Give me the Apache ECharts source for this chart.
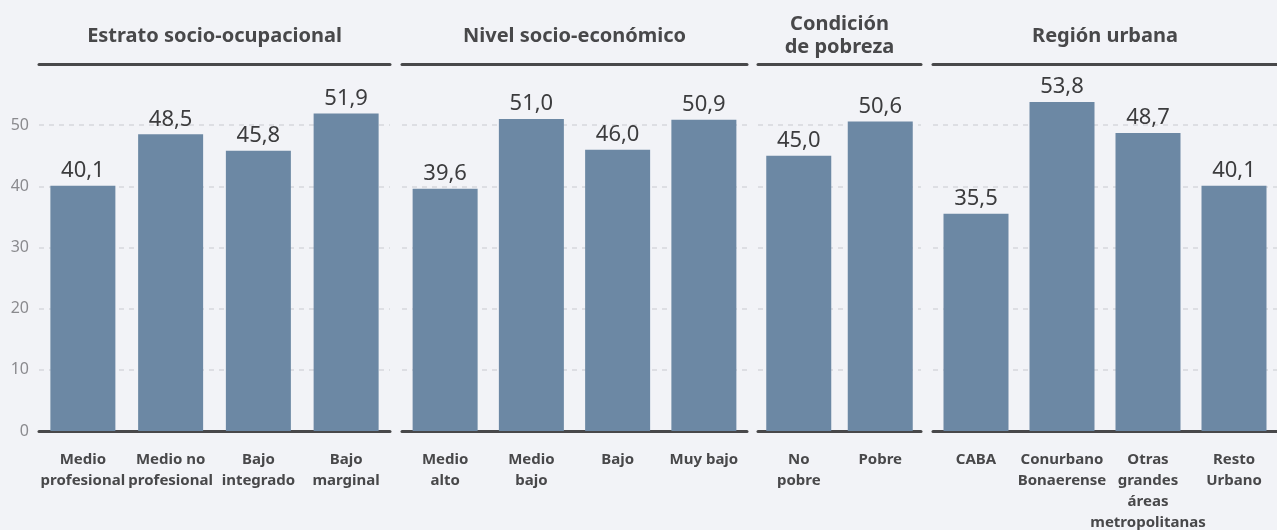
<!DOCTYPE html>
<html>
<head>
<meta charset="utf-8">
<script src="https://cdn.jsdelivr.net/npm/echarts@6/dist/echarts.min.js"></script>
<style>
  html, body { margin: 0; padding: 0; background: #f2f3f7; }
  #chart { width: 1277px; height: 530px; }
</style>
</head>
<body>
<div id="chart"></div>
<script>
const panelTitles = ['Estrato socio-ocupacional', 'Nivel socio-económico', 'Condición\nde pobreza', 'Región urbana']
const estratoCats = ['Medio\nprofesional', 'Medio no\nprofesional', 'Bajo\nintegrado', 'Bajo\nmarginal']
const estratoVals = [40.1, 48.5, 45.8, 51.9]
const nivelCats = ['Medio\nalto', 'Medio\nbajo', 'Bajo', 'Muy bajo']
const nivelVals = [39.6, 51.0, 46.0, 50.9]
const pobrezaCats = ['No\npobre', 'Pobre']
const pobrezaVals = [45.0, 50.6]
const regionCats = ['CABA', 'Conurbano\nBonaerense', 'Otras\ngrandes\náreas\nmetropolitanas', 'Resto\nUrbano']
const regionVals = [35.5, 53.8, 48.7, 40.1]

const panels = [
  { cats: estratoCats, vals: estratoVals, left: 39, width: 351 },
  { cats: nivelCats, vals: nivelVals, left: 402, width: 345 },
  { cats: pobrezaCats, vals: pobrezaVals, left: 758, width: 163 },
  { cats: regionCats, vals: regionVals, left: 933, width: 344 }
]

const font = '"Noto Sans", "Open Sans", sans-serif'
const dark = '#48484a'

const chart = echarts.init(document.getElementById('chart'))

const grid = []
const xAxis = []
const yAxis = []
const series = []
const graphic = []

panels.forEach((p, i) => {
  grid.push({ left: p.left, width: p.width, top: 64, bottom: 99, outerBoundsMode: 'none', containLabel: false })
  xAxis.push({
    type: 'category',
    gridIndex: i,
    data: p.cats,
    axisLine: { lineStyle: { color: dark, width: 3 } },
    axisTick: { show: false },
    axisLabel: {
      interval: 0,
      margin: 18,
      fontFamily: font,
      fontWeight: 'bold',
      fontSize: 15,
      lineHeight: 21,
      color: dark,
      verticalAlign: 'top'
    }
  })
  xAxis.push({
    type: 'category',
    gridIndex: i,
    position: 'top',
    data: p.cats,
    axisLine: { lineStyle: { color: dark, width: 3 } },
    axisTick: { show: false },
    axisLabel: { show: false }
  })
  yAxis.push({
    type: 'value',
    gridIndex: i,
    min: 0,
    max: 60,
    interval: 10,
    axisLine: { show: false },
    axisTick: { show: false },
    splitLine: { lineStyle: { color: '#d6d8dd', type: [5, 5], width: 1.5 } },
    axisLabel: {
      show: i === 0,
      margin: 10,
      fontFamily: font,
      fontSize: 16,
      color: '#8a8a8e',
      formatter: v => (v === 60 ? '' : v)
    }
  })
  series.push({
    type: 'bar',
    xAxisIndex: i * 2,
    yAxisIndex: i,
    data: p.vals,
    barWidth: 65,
    itemStyle: { color: '#6c88a4' },
    label: {
      show: true,
      position: 'top',
      distance: 4,
      fontFamily: font,
      fontSize: 22,
      color: '#3c3c3e',
      formatter: d => d.value.toFixed(1).replace('.', ',')
    }
  })
  graphic.push({
    type: 'text',
    x: p.left + p.width / 2,
    y: 36,
    style: {
      text: panelTitles[i],
      align: 'center',
      verticalAlign: 'middle',
      fontFamily: font,
      fontWeight: 'bold',
      fontSize: 20,
      lineHeight: 23,
      fill: dark
    }
  })
})

const option = {
  backgroundColor: '#f2f3f7',
  animation: false,
  grid,
  xAxis,
  yAxis,
  series,
  graphic
}
chart.setOption(option)

window.addEventListener('resize', () => {
  chart.resize()
})
</script>
</body>
</html>
